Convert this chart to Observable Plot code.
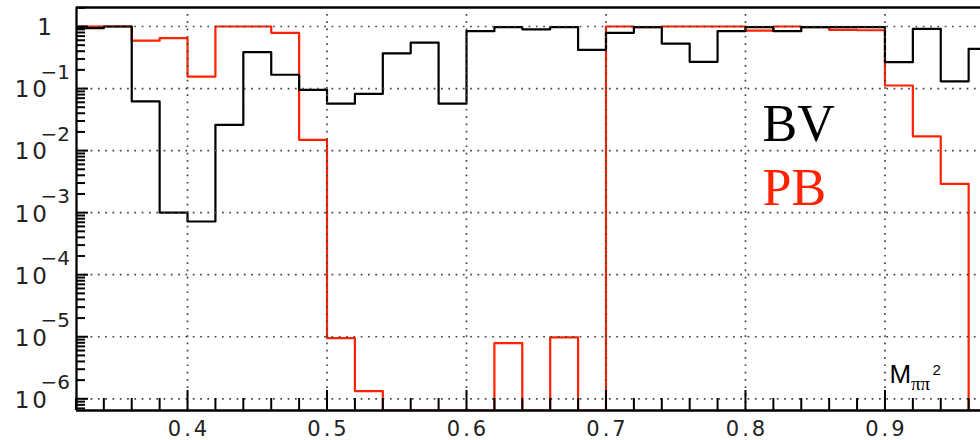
<!DOCTYPE html>
<html><head><meta charset="utf-8">
<script src="https://cdn.jsdelivr.net/npm/d3@7"></script>
<script src="https://cdn.jsdelivr.net/npm/@observablehq/plot@0.6"></script>
<style>
html,body{margin:0;padding:0;background:#fff;}
#chart{width:980px;height:440px;overflow:hidden;}
g[font-size="21"], g[font-size="23"]{letter-spacing:3px;}
</style></head><body><div id="chart"></div>
<script>
// ---- data ----
const binStart = 0.32;
const binWidth = 0.02;
const bvValues = [0.94, 1.0, 0.062, 1.0e-3, 7.2e-4, 0.026, 0.385, 0.167, 0.0955, 0.057,
  0.082, 0.37, 0.55, 0.057, 0.84, 0.975, 0.90, 0.975, 0.42, 0.79,
  0.975, 0.53, 0.27, 0.84, 0.975, 0.84, 0.975, 0.975, 0.975, 0.266,
  0.917, 0.131, 0.437];
const pbValues = [1.0, 1.0, 0.59, 0.65, 0.156, 1.0, 1.0, 0.79, 0.0149, 9.5e-6,
  1.33e-6, 0, 0, 0, 0, 7.9e-6, 0, 9.8e-6, 0, 1.0,
  0.975, 1.0, 1.0, 1.0, 0.86, 1.0, 0.975, 0.88, 0.87, 0.112,
  0.017, 2.9e-3, 0];
const seriesNames = ["BV", "PB"];
const xMajorTicks = [0.4, 0.5, 0.6, 0.7, 0.8, 0.9];
const xTickLabels = ["0.4", "0.5", "0.6", "0.7", "0.8", "0.9"];
const yDecades = [1, 1e-1, 1e-2, 1e-3, 1e-4, 1e-5, 1e-6];
const yTickBase = ["1", "10", "10", "10", "10", "10", "10"];
const yTickExp = ["", "\u22121", "\u22122", "\u22123", "\u22124", "\u22125", "\u22126"];
const xAxisLabel = ["M", "\u03c0\u03c0", "2"];
const xDomain = [0.3204, 0.9685];
const yDomain = [6.48e-7, 2.024];

// ---- derived ----
const red = "#ff2200";
function steps(vals) {
  const pts = vals.map((v, i) => ({x: binStart + i * binWidth, y: v > 0 ? v : yDomain[0]}));
  pts.push({x: binStart + vals.length * binWidth, y: pts[pts.length - 1].y});
  return pts;
}
const bvPts = steps(bvValues);
const pbPts = steps(pbValues);
const xMinorTicks = d3.range(16, 50).map(i => +(i * 0.02).toFixed(2)).filter(v => !xMajorTicks.some(m => Math.abs(m - v) < 1e-9));
const yMinorTicks = [];
for (let k = -7; k <= 0; k++) for (let m = 2; m <= 9; m++) {
  const v = m * Math.pow(10, k);
  if (v >= yDomain[0] && v <= yDomain[1]) yMinorTicks.push(v);
}
const decadeLabels = yDecades.map((v, i) => ({v, base: yTickBase[i], exp: yTickExp[i]}));

const chart = Plot.plot({
  width: 980, height: 440,
  marginLeft: 76, marginRight: 0, marginTop: 7, marginBottom: 30,
  x: {domain: xDomain, axis: null},
  y: {type: "log", domain: yDomain, axis: null},
  style: {background: "white"},
  marks: [
    Plot.line(pbPts, {x: "x", y: "y", curve: "step-after", stroke: red, strokeWidth: 2.2, clip: true}),
    Plot.line(bvPts, {x: "x", y: "y", curve: "step-after", stroke: "black", strokeWidth: 2.2, clip: true}),
    Plot.ruleY(yDecades, {y: d => d, stroke: "#444", strokeWidth: 1.7, strokeDasharray: "1.7,5.6"}),
    Plot.ruleX(xMajorTicks, {x: d => d, stroke: "#444", strokeWidth: 1.7, strokeDasharray: "1.7,5.6", insetTop: 7}),
    Plot.tickX(xMinorTicks, {x: d => d, stroke: "black", strokeWidth: 2, insetTop: 391}),
    Plot.tickX(xMajorTicks, {x: d => d, stroke: "black", strokeWidth: 2, insetTop: 383}),
    Plot.tickY(yMinorTicks, {y: d => d, stroke: "black", strokeWidth: 2, insetRight: 895}),
    Plot.tickY(yDecades, {y: d => d, stroke: "black", strokeWidth: 2, insetRight: 892}),
    Plot.ruleX([xDomain[0]], {x: d => d, stroke: "black", strokeWidth: 2.3}),
    Plot.ruleY([yDomain[0]], {y: d => d, stroke: "black", strokeWidth: 2.3}),
    Plot.ruleY([yDomain[1]], {y: d => d, stroke: "black", strokeWidth: 2.3}),
    // x tick labels
    Plot.text(xMajorTicks, {x: d => d, text: (d, i) => xTickLabels[i], frameAnchor: "bottom", lineAnchor: "top",
      dy: 11, dx: 1.5, fontSize: 21, fontFamily: "DejaVu Sans", fill: "#222"}),
    // y tick labels
    Plot.text(decadeLabels.filter(d => d.exp === ""), {y: "v", text: "base", frameAnchor: "left", textAnchor: "end",
      dx: -21.5, dy: 1.5, fontSize: 23, fontFamily: "DejaVu Sans", fill: "#222"}),
    Plot.text(decadeLabels.filter(d => d.exp !== ""), {y: "v", text: "base", frameAnchor: "left", textAnchor: "end",
      dx: -26.5, dy: 1.5, fontSize: 23, fontFamily: "DejaVu Sans", fill: "#222"}),
    Plot.text(decadeLabels.filter(d => d.exp !== ""), {y: "v", text: "exp", frameAnchor: "left", textAnchor: "start",
      dx: -36, dy: -16, fontSize: 20, fontFamily: "DejaVu Sans", fill: "#222"}),
    // legend
    Plot.text([seriesNames[0]], {text: d => d, frameAnchor: "top-left", textAnchor: "start", lineAnchor: "bottom",
      dx: 686, dy: 133, fontSize: 52, fontFamily: "Liberation Serif", fill: "black"}),
    Plot.text([seriesNames[1]], {text: d => d, frameAnchor: "top-left", textAnchor: "start", lineAnchor: "bottom",
      dx: 686, dy: 197, fontSize: 52, fontFamily: "Liberation Serif", fill: red}),
    // axis title M_{ππ}^2
    Plot.text([xAxisLabel[0]], {text: d => d, frameAnchor: "bottom-right", textAnchor: "start", lineAnchor: "bottom",
      dx: -91, dy: -28, fontSize: 26, fontFamily: "Liberation Sans", fill: "black"}),
    Plot.text([xAxisLabel[1]], {text: d => d, frameAnchor: "bottom-right", textAnchor: "start", lineAnchor: "bottom",
      dx: -69.5, dy: -21, fontSize: 19, fontFamily: "Liberation Serif", fill: "black"}),
    Plot.text([xAxisLabel[2]], {text: d => d, frameAnchor: "bottom-right", textAnchor: "start", lineAnchor: "bottom",
      dx: -48, dy: -36, fontSize: 15, fontFamily: "Liberation Sans", fill: "black"})
  ]
});
document.getElementById("chart").appendChild(chart);
</script>
</body></html>
